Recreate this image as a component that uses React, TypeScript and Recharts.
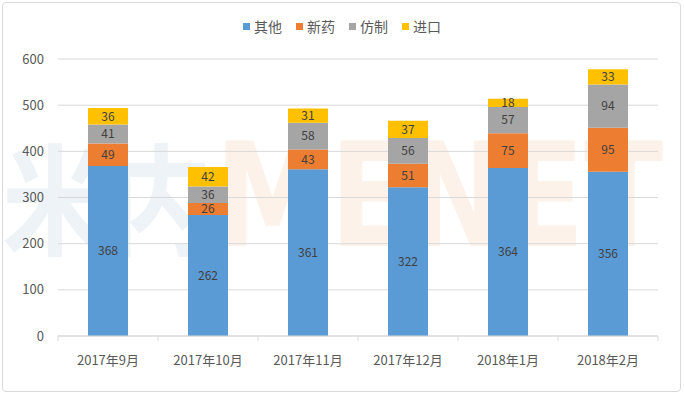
import React from "react";
import { BarChart, Bar, XAxis, YAxis, CartesianGrid, LabelList } from "recharts";

const months = ["2017年9月", "2017年10月", "2017年11月", "2017年12月", "2018年1月", "2018年2月"];
const other = [368, 262, 361, 322, 364, 356];
const newDrug = [49, 26, 43, 51, 75, 95];
const generic = [41, 36, 58, 56, 57, 94];
const imported = [36, 42, 31, 37, 18, 33];
const yTicks = [0, 100, 200, 300, 400, 500, 600];

const series = [
  { key: "other", name: "其他", color: "#5B9BD5", values: other },
  { key: "newDrug", name: "新药", color: "#ED7D31", values: newDrug },
  { key: "generic", name: "仿制", color: "#A5A5A5", values: generic },
  { key: "imported", name: "进口", color: "#FFC000", values: imported },
];

const data = months.map((m, i) => {
  const row: Record<string, string | number> = { month: m };
  series.forEach((s) => (row[s.key] = s.values[i]));
  return row;
});

const FONT = "'Noto Sans CJK SC', 'Noto Sans', sans-serif";
const GRID = "#d9d9d9";

function MonthTick(props: any) {
  const { x, y, payload, index } = props;
  const half = payload?.offset ?? 50;
  return (
    <g>
      <line x1={x - half} y1={y} x2={x - half} y2={y + 5} stroke={GRID} />
      {index === months.length - 1 && <line x1={x + half} y1={y} x2={x + half} y2={y + 5} stroke={GRID} />}
      <text x={x} y={y + 25} textAnchor="middle" dominantBaseline="middle" fill="#595959" fontSize={13} fontFamily={FONT}>
        {payload.value}
      </text>
    </g>
  );
}

export default function App() {
  return (
    <div style={{ position: "absolute", left: 0, top: 0, width: 684, height: 394, background: "#fff", fontFamily: FONT }}>
      <div style={{ position: "absolute", left: 2, top: 2, width: 677, height: 388, border: "1px solid #d9d9d9", borderRadius: 4 }} />
      <svg width={684} height={394} style={{ position: "absolute", left: 0, top: 0 }}>
        <text x={2} y={246} fontSize={120} fontWeight={700} fill="#eef3f7" fontFamily={FONT} textLength={212} lengthAdjust="spacingAndGlyphs">米内</text>
        <text x={215} y={246} fontSize={144} fontWeight={700} fill="#fdf2ea" fontFamily="'DejaVu Sans', sans-serif" textLength={448} lengthAdjust="spacingAndGlyphs">MENET</text>
      </svg>
      <div style={{ position: "absolute", top: 16, left: 0, width: 684, display: "flex", justifyContent: "center", gap: 14 }}>
        {series.map((s) => (
          <div key={s.key} style={{ display: "flex", alignItems: "center", fontSize: 14, color: "#595959" }}>
            <span style={{ width: 7, height: 7, background: s.color, marginRight: 4, display: "inline-block" }} />
            {s.name}
          </div>
        ))}
      </div>
      <div style={{ position: "absolute", left: 0, top: 0 }}>
        <BarChart width={684} height={394} data={data} margin={{ top: 59, right: 26, left: 0, bottom: 0 }} barSize={40}>
          <CartesianGrid vertical={false} stroke={GRID} />
          <XAxis dataKey="month" height={58} axisLine={{ stroke: GRID }} tickLine={false} tickSize={0} tickMargin={0} tick={<MonthTick />} interval={0} />
          <YAxis width={58} domain={[0, 600]} ticks={yTicks} axisLine={false} tickLine={false} tickSize={0} tickMargin={14} tick={{ fill: "#595959", fontSize: 13, fontFamily: FONT }} />
          {series.map((s) => (
            <Bar key={s.key} dataKey={s.key} name={s.name} stackId="a" fill={s.color} isAnimationActive={false}>
              <LabelList dataKey={s.key} position="center" fill="#404040" fontSize={12} fontFamily={FONT} />
            </Bar>
          ))}
        </BarChart>
      </div>
    </div>
  );
}
